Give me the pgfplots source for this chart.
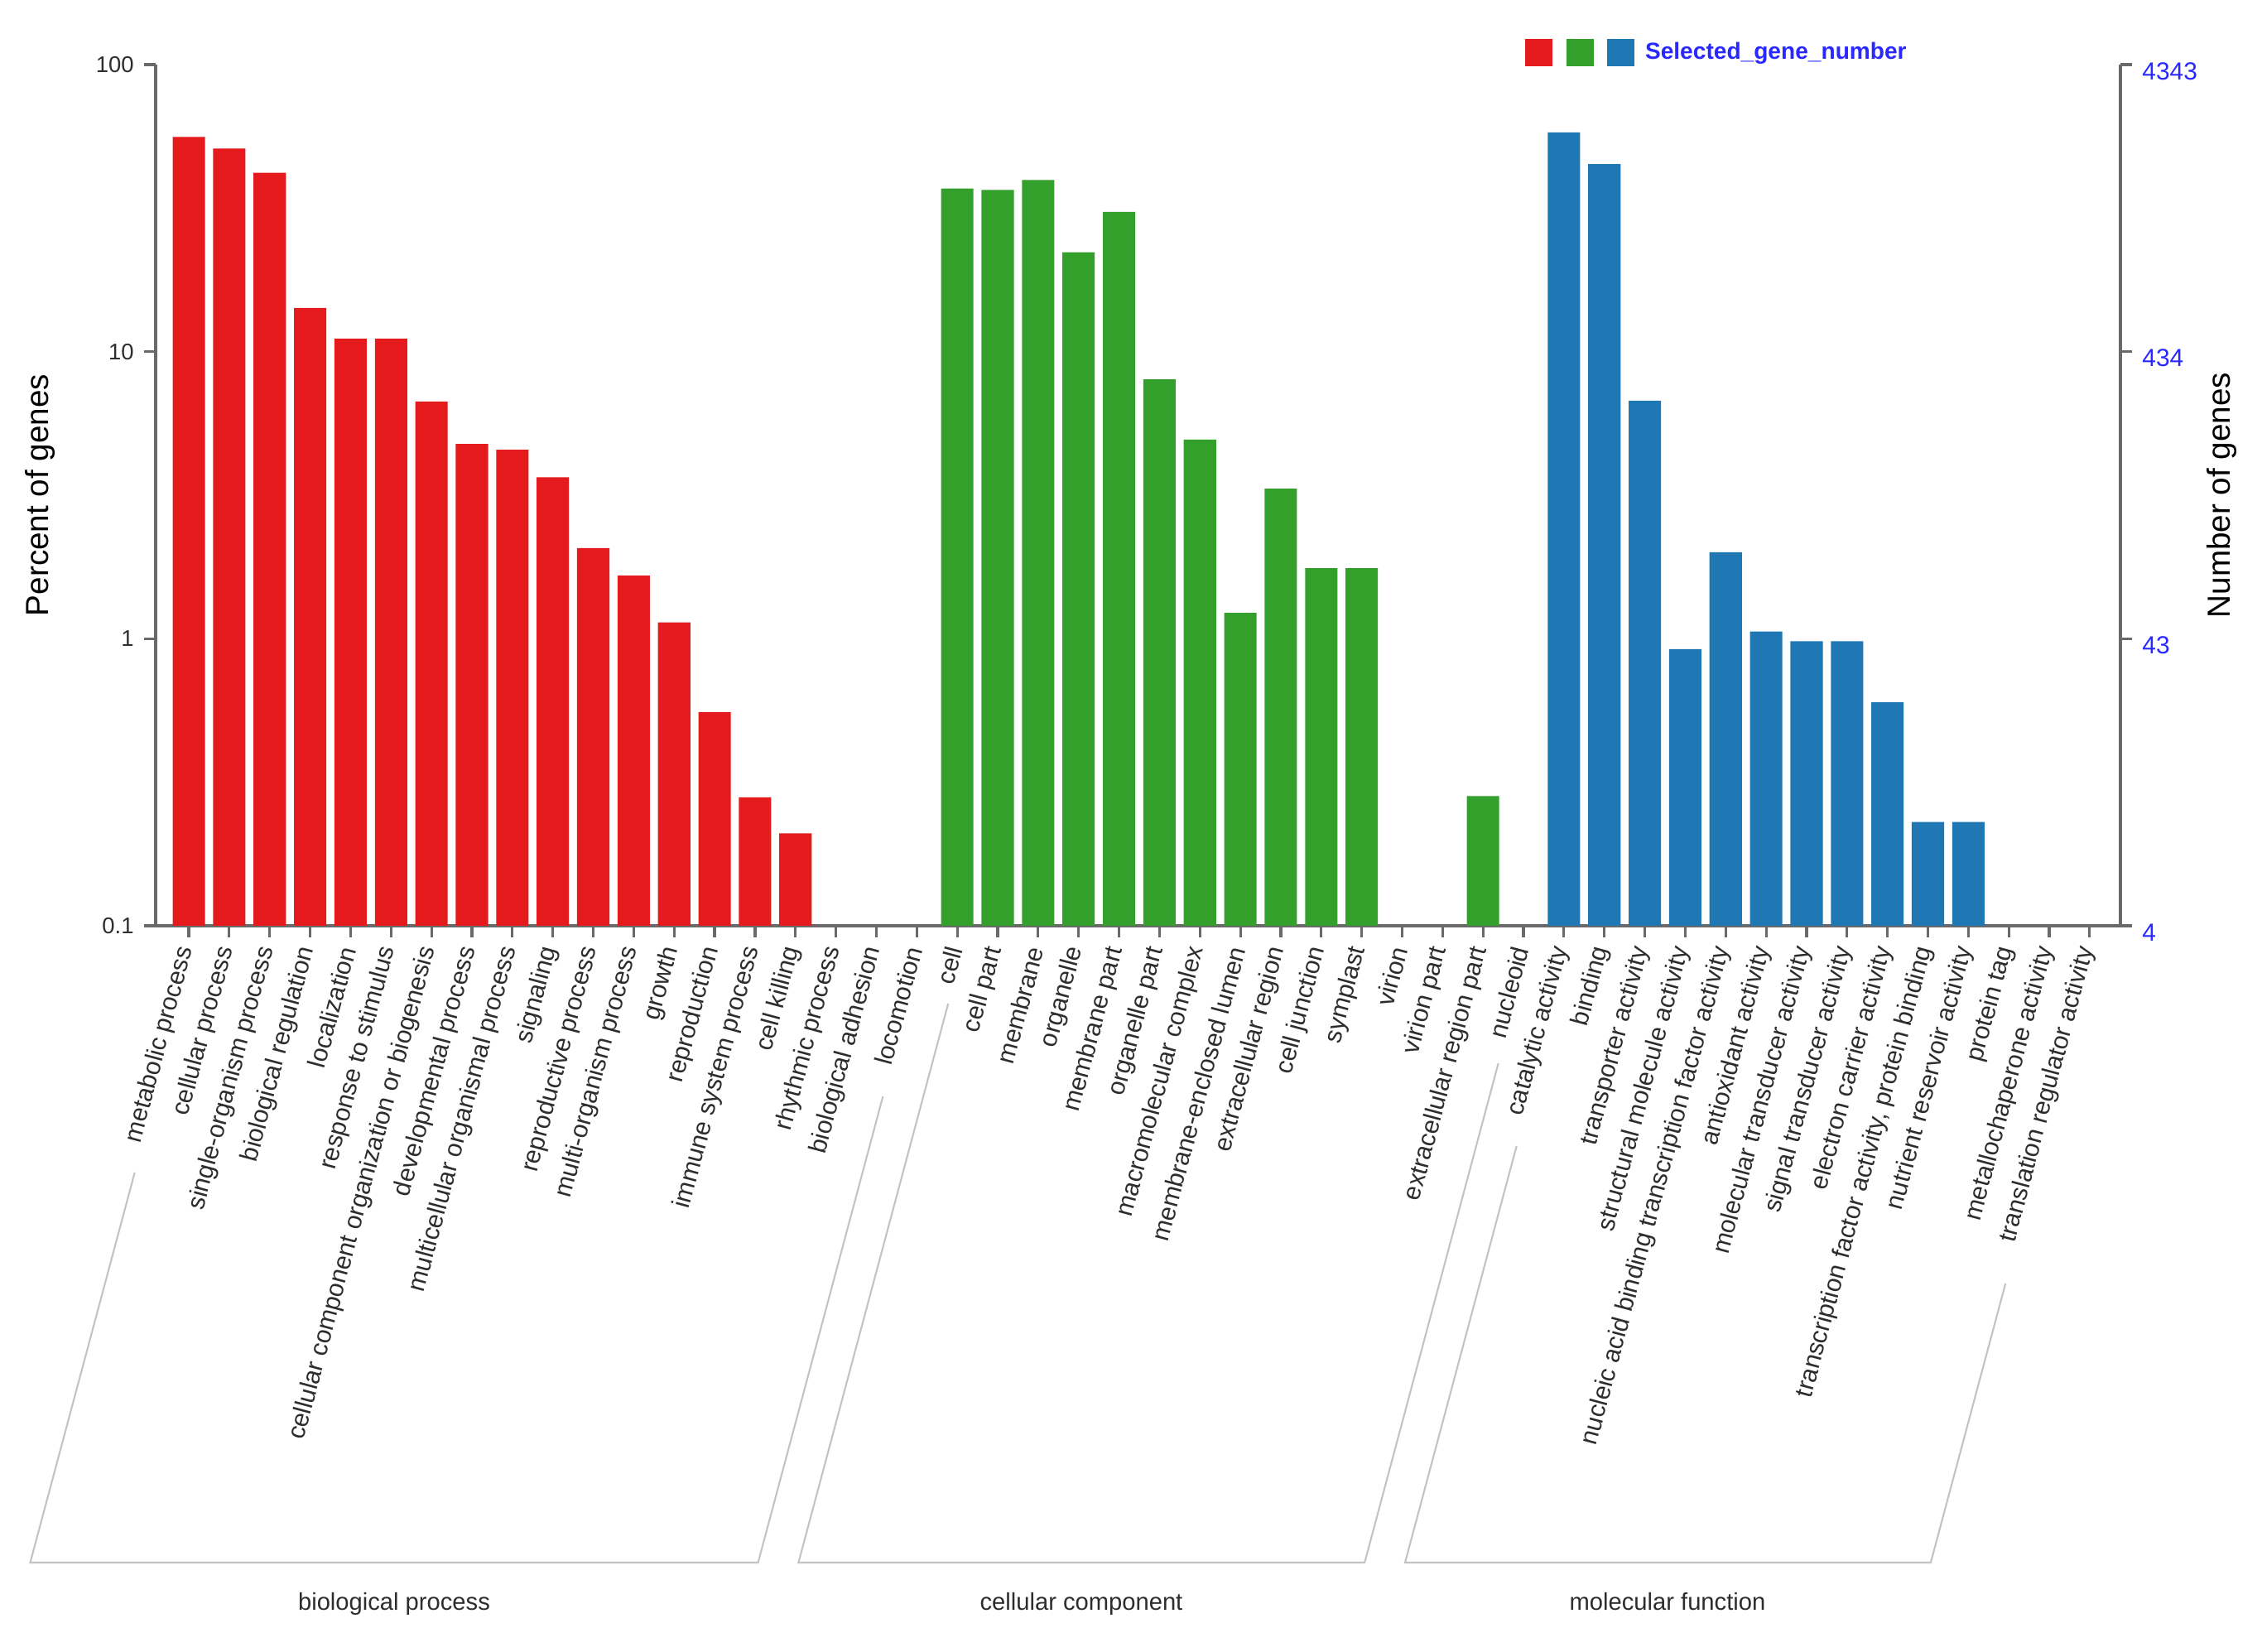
\documentclass[border=0pt]{standalone}
\usepackage{fontspec}
\setmainfont{Liberation Sans}
\usepackage{pgfplots}
\pgfplotsset{compat=1.18}

\definecolor{bpred}{RGB}{228,26,28}
\definecolor{ccgreen}{RGB}{51,160,44}
\definecolor{mfblue}{RGB}{31,120,180}
\definecolor{axgray}{RGB}{105,105,105}
\definecolor{brgray}{RGB}{195,195,195}
\definecolor{lblblue}{RGB}{40,40,255}
\definecolor{txt}{RGB}{45,45,45}

\pgfplotsset{
  sq legend/.style={legend image code/.code={\fill[##1] (0cm,-0.165cm) rectangle (0.33cm,0.165cm);}},
}

\begin{document}
\begin{tikzpicture}
\path[use as bounding box] (0,0) rectangle (27.32,19.95);

\begin{axis}[
  at={(1.88cm,8.77cm)}, anchor=south west,
  scale only axis, width=23.73cm, height=10.40cm,
  ymode=log, ymin=0.1, ymax=100, log origin=infty,
  xmin=-0.82, xmax=47.76,
  ybar, bar width=0.8, bar shift=0pt,
  axis x line*=bottom, axis y line*=left,
  axis line style={axgray, line width=0.9pt},
  every tick/.style={axgray, line width=0.9pt},
  tick align=outside, major tick length=0.14cm,
  yminorticks=false,
  xtick={0,...,47},
  xticklabels={metabolic process, cellular process, single-organism process,
    biological regulation, localization, response to stimulus,
    cellular component organization or biogenesis, developmental process,
    multicellular organismal process, signaling, reproductive process,
    multi-organism process, growth, reproduction, immune system process,
    cell killing, rhythmic process, biological adhesion, locomotion,
    cell, cell part, membrane, organelle, membrane part, organelle part,
    macromolecular complex, membrane-enclosed lumen, extracellular region,
    cell junction, symplast, virion, virion part, extracellular region part,
    nucleoid, catalytic activity, binding, transporter activity,
    structural molecule activity,
    nucleic acid binding transcription factor activity,
    antioxidant activity, molecular transducer activity,
    signal transducer activity, electron carrier activity,
    {transcription factor activity, protein binding},
    nutrient reservoir activity, protein tag, metallochaperone activity,
    translation regulator activity},
  xticklabel style={rotate=75, anchor=east, text=txt,
    font=\fontsize{8.6}{10}\selectfont},
  ytick={0.1,1,10,100}, yticklabels={0.1,1,10,100},
  yticklabel style={text=txt, font=\fontsize{7.8}{9}\selectfont},
  ylabel={Percent of genes},
  ylabel style={at={(rel axis cs:-0.0586,0.5)}, anchor=center, text=black,
    font=\fontsize{11}{13}\selectfont},
  legend style={at={(0.697,1.0139)}, anchor=west, draw=none, fill=none,
    inner sep=0pt, outer sep=0pt, legend columns=-1,
    nodes={inner sep=0pt, text=lblblue, font=\bfseries\fontsize{8}{9}\selectfont},
    /tikz/every odd column/.append style={column sep=0.13cm},
    /tikz/every even column/.append style={column sep=0pt}},
  clip=false,
]
% biological process
\addplot[fill=bpred, draw=none, sq legend] coordinates {
  (0,56) (1,51) (2,42) (3,14.2) (4,11.1) (5,11.1) (6,6.7) (7,4.77)
  (8,4.55) (9,3.65) (10,2.07) (11,1.66) (12,1.14) (13,0.555) (14,0.28) (15,0.21)
};
\addlegendentry{\mbox{}}
% cellular component
\addplot[fill=ccgreen, draw=none, sq legend] coordinates {
  (19,37) (20,36.6) (21,39.6) (22,22.2) (23,30.7) (24,8.0) (25,4.94)
  (26,1.23) (27,3.33) (28,1.76) (29,1.76) (32,0.283)
};
\addlegendentry{\mbox{}}
% molecular function
\addplot[fill=mfblue, draw=none, sq legend] coordinates {
  (34,58) (35,45) (36,6.75) (37,0.92) (38,2.0) (39,1.06) (40,0.98)
  (41,0.98) (42,0.60) (43,0.23) (44,0.23)
};
\addlegendentry{Selected\_gene\_number}
\end{axis}

% right axis: gene counts
\begin{axis}[
  at={(1.88cm,8.77cm)}, anchor=south west,
  scale only axis, width=23.73cm, height=10.40cm,
  ymode=log, ymin=0.1, ymax=100,
  xmin=-0.82, xmax=47.76,
  axis y line*=right, axis x line=none,
  axis line style={axgray, line width=0.9pt},
  every tick/.style={axgray, line width=0.9pt},
  tick align=outside, major tick length=0.14cm,
  yminorticks=false,
  ytick={0.1,1,10,100}, yticklabels={4,43,434,4343},
  yticklabel style={text=lblblue, font=\fontsize{8.5}{10}\selectfont, yshift=-0.08cm},
  ylabel={Number of genes},
  ylabel style={at={(rel axis cs:1.0514,0.5)}, anchor=center, rotate=0, text=black,
    font=\fontsize{11}{13}\selectfont},
]
\end{axis}

% category brackets
\draw[brgray, line width=0.6pt] (1.627,5.79) -- (0.365,1.08) -- (9.156,1.08) -- (10.664,6.71);
\draw[brgray, line width=0.6pt] (11.452,7.83) -- (9.644,1.08) -- (16.482,1.08) -- (18.097,7.11);
\draw[brgray, line width=0.6pt] (18.317,6.11) -- (16.970,1.08) -- (23.319,1.08) -- (24.222,4.45);
\node[anchor=base, text=txt, font=\fontsize{8.3}{10}\selectfont] at (4.76,0.50) {biological process};
\node[anchor=base, text=txt, font=\fontsize{8.3}{10}\selectfont] at (13.06,0.50) {cellular component};
\node[anchor=base, text=txt, font=\fontsize{8.3}{10}\selectfont] at (20.14,0.50) {molecular function};
\end{tikzpicture}
\end{document}
